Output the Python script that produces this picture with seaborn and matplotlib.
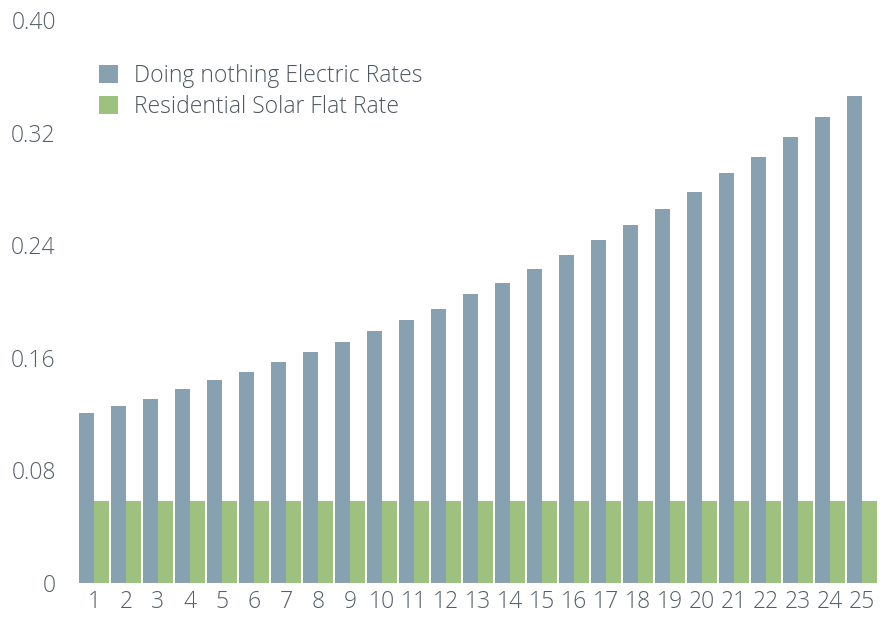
import pandas as pd
import matplotlib.pyplot as plt
import seaborn as sns

# Values
years = list(range(1, 26))
doing_nothing = [0.121, 0.126, 0.131, 0.138, 0.144, 0.150, 0.157, 0.164, 0.171, 0.179,
                 0.187, 0.195, 0.205, 0.213, 0.223, 0.233, 0.244, 0.254, 0.266, 0.278,
                 0.291, 0.303, 0.317, 0.331, 0.346]
solar_flat = [0.058] * 25
series_names = ['Doing nothing Electric Rates', 'Residential Solar Flat Rate']
y_ticks = [0, 0.08, 0.16, 0.24, 0.32, 0.40]
y_tick_labels = ['0', '0.08', '0.16', '0.24', '0.32', '0.40']

df = pd.DataFrame({
    'Year': years * 2,
    'Rate': doing_nothing + solar_flat,
    'Series': [series_names[0]] * 25 + [series_names[1]] * 25,
})

sns.set_style('white')
plt.rcParams['font.family'] = ['Open Sans', 'DejaVu Sans']

fig = plt.figure(figsize=(8.87, 6.17), dpi=100)
ax = fig.add_axes([78 / 887, 1 - 583 / 617, 800 / 887, 563 / 617])

sns.barplot(data=df, x='Year', y='Rate', hue='Series', hue_order=series_names,
            palette=['#88a1b0', '#9dc280'], width=0.96, saturation=1,
            linewidth=0, ax=ax, legend=True)

ax.set_xlim(-0.5, 24.5)
ax.set_ylim(0, 0.40)
ax.set_yticks(y_ticks)
ax.set_yticklabels(y_tick_labels)
ax.set_xlabel('')
ax.set_ylabel('')
for s in ax.spines.values():
    s.set_visible(False)
ax.tick_params(axis='both', length=0, labelsize=16.5, labelcolor='#565e68')
ax.tick_params(axis='y', pad=16)
ax.tick_params(axis='x', pad=5)
for lab in ax.get_xticklabels() + ax.get_yticklabels():
    lab.set_fontweight('light')

handles, labels = ax.get_legend_handles_labels()
leg = ax.legend(handles, labels, loc='upper left', bbox_to_anchor=(0.026, 0.922),
                frameon=False, fontsize=16.5, handlelength=0.83, handleheight=0.83,
                handletextpad=0.7, labelspacing=0.32, borderpad=0, borderaxespad=0)
for t in leg.get_texts():
    t.set_color('#4f5763')
    t.set_fontweight('light')

fig.savefig('out.png', dpi=100)
